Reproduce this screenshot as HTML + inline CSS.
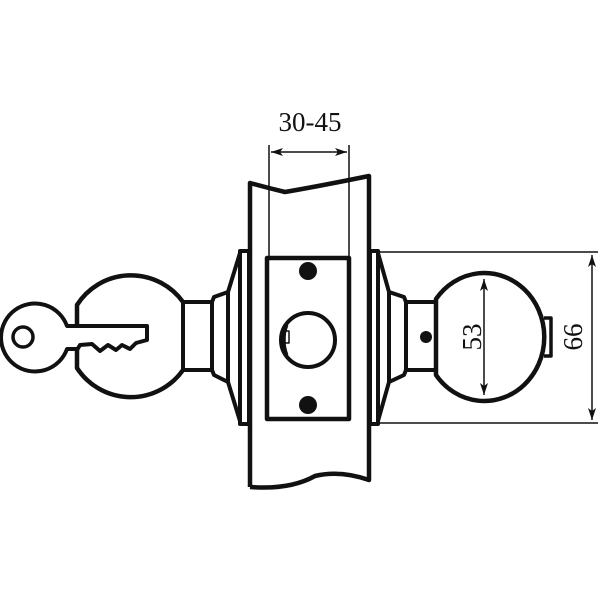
<!DOCTYPE html>
<html><head><style>body{margin:0;background:#fff}svg{display:block}</style></head><body>
<svg width="600" height="600" viewBox="0 0 600 600" xmlns="http://www.w3.org/2000/svg">
<defs><marker id="a" viewBox="0 0 12 8" refX="12" refY="4" markerWidth="12" markerHeight="8" orient="auto-start-reverse" markerUnits="userSpaceOnUse"><path d="M0,0 L12,4 L0,8 L3,4z" fill="#111"/></marker></defs>
<g fill="none" stroke="#111" stroke-linejoin="round">
<path d="M250,487 V183 Q268,188 285,192 Q320,186 369,176 V480 Q340,470 315,476 Q290,490 250,487" stroke-width="4.5" fill="#fff"/>
<line x1="269" y1="145" x2="269" y2="258" stroke-width="1.5"/>
<line x1="349" y1="145" x2="349" y2="258" stroke-width="1.5"/>
<line x1="271" y1="152" x2="347" y2="152" stroke-width="1.5" marker-start="url(#a)" marker-end="url(#a)"/>
<rect x="267" y="258" width="82" height="161" stroke-width="4.5" fill="#fff"/>
<circle cx="308" cy="340" r="27" stroke-width="4"/>
<path d="M287,325 Q281,340 287,355" stroke-width="3"/>
<rect x="285" y="331" width="4" height="12" stroke-width="1.5"/>
<rect x="240" y="251" width="9" height="173" stroke-width="4" fill="#fff"/>
<path d="M240,253 L228,292 L214,297 L212,302 V370 L214,375 L228,382 L240,421" stroke-width="4"/>
<line x1="228" y1="292" x2="228" y2="382" stroke-width="4"/>
<rect x="183" y="302" width="29" height="68" stroke-width="4"/>
<path d="M183,302 A64,64 0 0 0 77,305 V326 M77,350 V368 A64,64 0 0 0 183,370" stroke-width="4.5"/>
<path d="M77,326 H147 V340 L136,343 L130,349 L122,345 L116,350 L108,345 L100,351 L92,344 L80,345 L77,350" stroke-width="4"/>
<path d="M77,326 H67 A34,34 0 1 0 67,349 H77" stroke-width="4"/>
<circle cx="23" cy="337" r="10" stroke-width="3.5"/>
<rect x="370" y="251" width="8" height="173" stroke-width="4" fill="#fff"/>
<path d="M378,253 L389,292 L404,297 L406,302 V370 L404,375 L389,382 L378,421" stroke-width="4"/>
<line x1="389" y1="292" x2="389" y2="382" stroke-width="4"/>
<rect x="406" y="302" width="30" height="68" stroke-width="4"/>
<path d="M436,299 A60,64 0 1 1 436,375 Z" stroke-width="4.5"/>
<path d="M544,318 H551 V356 H544" stroke-width="3.5"/>
<line x1="380" y1="252" x2="598" y2="252" stroke-width="1.5"/>
<line x1="380" y1="423" x2="598" y2="423" stroke-width="1.5"/>
<line x1="592" y1="255" x2="592" y2="420" stroke-width="1.5" marker-start="url(#a)" marker-end="url(#a)"/>
<line x1="484" y1="279" x2="484" y2="395" stroke-width="1.5" marker-start="url(#a)" marker-end="url(#a)"/>
</g>
<g fill="#111">
<circle cx="308" cy="271" r="9"/><circle cx="308" cy="405" r="9"/>
<circle cx="426" cy="337" r="6"/>
</g>
<g font-family="Liberation Serif, serif" font-size="27" fill="#111">
<text x="310" y="131" text-anchor="middle">30-45</text>
<text transform="translate(481,337) rotate(-90)" text-anchor="middle">53</text>
<text transform="translate(582,337) rotate(-90)" text-anchor="middle">66</text>
</g>
</svg>
</body></html>
